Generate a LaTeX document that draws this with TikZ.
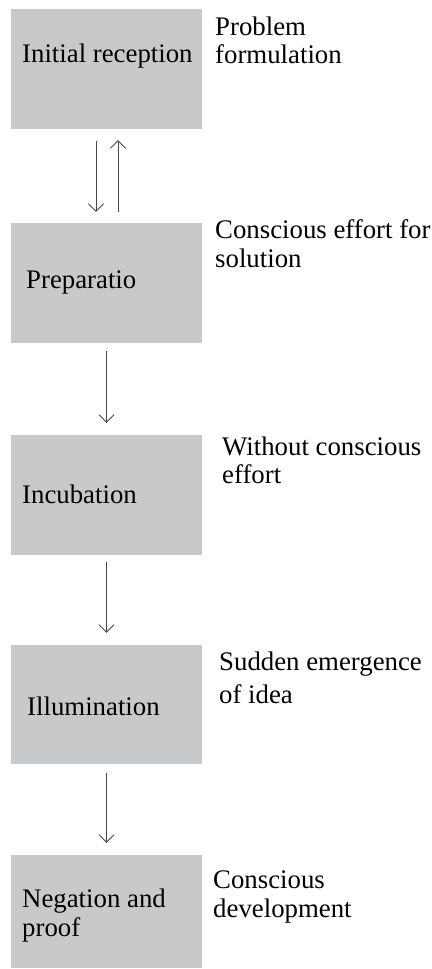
\documentclass[tikz,border=0pt]{standalone}
\usepackage{fontspec}
\setmainfont{Liberation Serif}
\usetikzlibrary{arrows.meta}
\definecolor{boxgray}{RGB}{200,201,203}
\definecolor{arrowgray}{RGB}{70,70,70}
\begin{document}
\begin{tikzpicture}[x=1bp,y=-1bp,
  stagebox/.style={rectangle,fill=boxgray,draw=none,inner sep=0pt,minimum width=191bp},
  txt/.style={anchor=base west,inner sep=0pt,font=\fontsize{26.8bp}{29bp}\selectfont,text=black},
  flow/.style={draw=arrowgray,line width=0.9bp,-{Straight Barb[length=7.5bp,width=15bp]}}]
\useasboundingbox (0,0) rectangle (431,969);
% boxes
\node[stagebox,minimum height=120bp] (b1) at (106.5,69) {};
\node[stagebox,minimum height=120bp] (b2) at (106.5,283) {};
\node[stagebox,minimum height=120bp] (b3) at (106.5,495) {};
\node[stagebox,minimum height=119bp] (b4) at (106.5,704.5) {};
\node[stagebox,minimum height=113bp] (b5) at (106.5,911.5) {};
% box texts
\node[txt] (t1) at (22,62) {Initial reception};
\node[txt] (t2) at (26,288) {Preparatio};
\node[txt] (t3) at (22,503) {Incubation};
\node[txt] (t4) at (27,715) {Illumination};
\node[txt] (t5a) at (22,907) {Negation and};
\node[txt] (t5b) at (22,936) {proof};
% side texts
\node[txt] (s1a) at (215,35) {Problem};
\node[txt] (s1b) at (215,63) {formulation};
\node[txt] (s2a) at (215,238) {Conscious effort for};
\node[txt] (s2b) at (215,267) {solution};
\node[txt] (s3a) at (222,455) {Without conscious};
\node[txt] (s3b) at (222,483) {effort};
\node[txt] (s4a) at (219,670) {Sudden emergence};
\node[txt] (s4b) at (219,703) {of idea};
\node[txt] (s5a) at (213,888) {Conscious};
\node[txt] (s5b) at (213,917) {development};
% arrows
\draw[flow,shorten <=12bp,shorten >=11bp] ([xshift=-10.5bp]b1.south) -- ([xshift=-10.5bp]b2.north);
\draw[flow,shorten <=11bp,shorten >=11bp] ([xshift=11.5bp]b2.north) -- ([xshift=11.5bp]b1.south);
\draw[flow,shorten <=8bp,shorten >=12bp] (b2.south) -- (b3.north);
\draw[flow,shorten <=7bp,shorten >=12bp] (b3.south) -- (b4.north);
\draw[flow,shorten <=9bp,shorten >=12bp] (b4.south) -- (b5.north);
\end{tikzpicture}
\end{document}
